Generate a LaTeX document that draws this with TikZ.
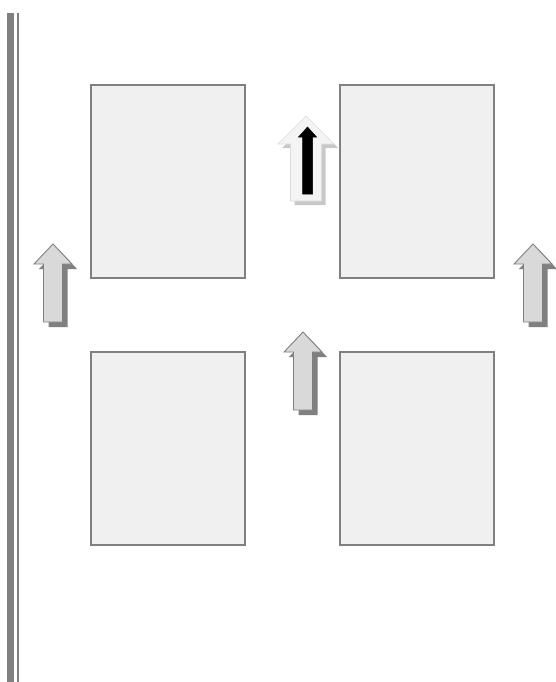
\documentclass[tikz,border=0pt]{standalone}
\usepackage{tikz}
\definecolor{boxfill}{HTML}{F0F0F0}
\definecolor{boxline}{HTML}{808080}
\definecolor{arrfill}{HTML}{D9D9D9}
\definecolor{arrshadow}{HTML}{808080}
\definecolor{paleshadow}{HTML}{C8C8C8}
\definecolor{palefill}{HTML}{F4F4F4}
% #1 style, #2 x of tip, #3 y of tip, #4 head half width, #5 shaft half width, #6 head depth, #7 total length
\newcommand{\blockup}[7]{%
  \path[#1] (#2,#3) -- ++(#4,#6) -- ++(-#4+#5,0) -- ++(0,#7-#6) -- ++(-2*#5,0)
     -- ++(0,-#7+#6) -- ++(-#4+#5,0) -- cycle;}
\tikzset{
  panel/.style={draw=boxline, line width=1.6pt, fill=boxfill, minimum width=154pt, minimum height=193pt, inner sep=0pt, outer sep=0pt},
  bar/.style={fill=boxline, draw=none},
  arrbody/.style={fill=arrfill, draw=boxline, line width=0.9pt, line join=miter},
  arrshade/.style={fill=arrshadow, draw=none},
  palebody/.style={fill=palefill, draw=palefill!90!black, line width=0.6pt},
  paleshade/.style={fill=paleshadow, draw=none},
  darkbody/.style={fill=black, draw=black, line width=0.5pt}
}
\begin{document}
\begin{tikzpicture}[x=1pt,y=-1pt]
\useasboundingbox (0,0) rectangle (555,682);
\fill[white] (0,0) rectangle (555,682);
% left bars
\fill[bar] (7.3,13) rectangle (14.3,682);
\fill[bar] (16.7,13) rectangle (19.3,682);
% panels
\node[panel] (p1) at (168,181.5) {};
\node[panel] (p2) at (417,181.5) {};
\node[panel] (p3) at (168,448.5) {};
\node[panel] (p4) at (417,448.5) {};
% left arrow
\blockup{arrshade}{58}{249}{19}{9.5}{20}{78}
\blockup{arrbody}{53}{244}{19}{9.5}{20}{78}
% middle arrow
\blockup{arrshade}{308}{337}{19}{9.5}{20}{78}
\blockup{arrbody}{303}{332}{19}{9.5}{20}{78}
% right arrow
\blockup{arrshade}{538}{249}{19}{9.5}{20}{78}
\blockup{arrbody}{533}{244}{19}{9.5}{20}{78}
% top arrow (pale with dark inner arrow)
\blockup{paleshade}{310}{120}{28}{15.5}{28}{85}
\blockup{palebody}{306}{116}{28}{15.5}{28}{85}
\blockup{darkbody}{307.5}{127}{9}{5}{10}{67}
\end{tikzpicture}
\end{document}
